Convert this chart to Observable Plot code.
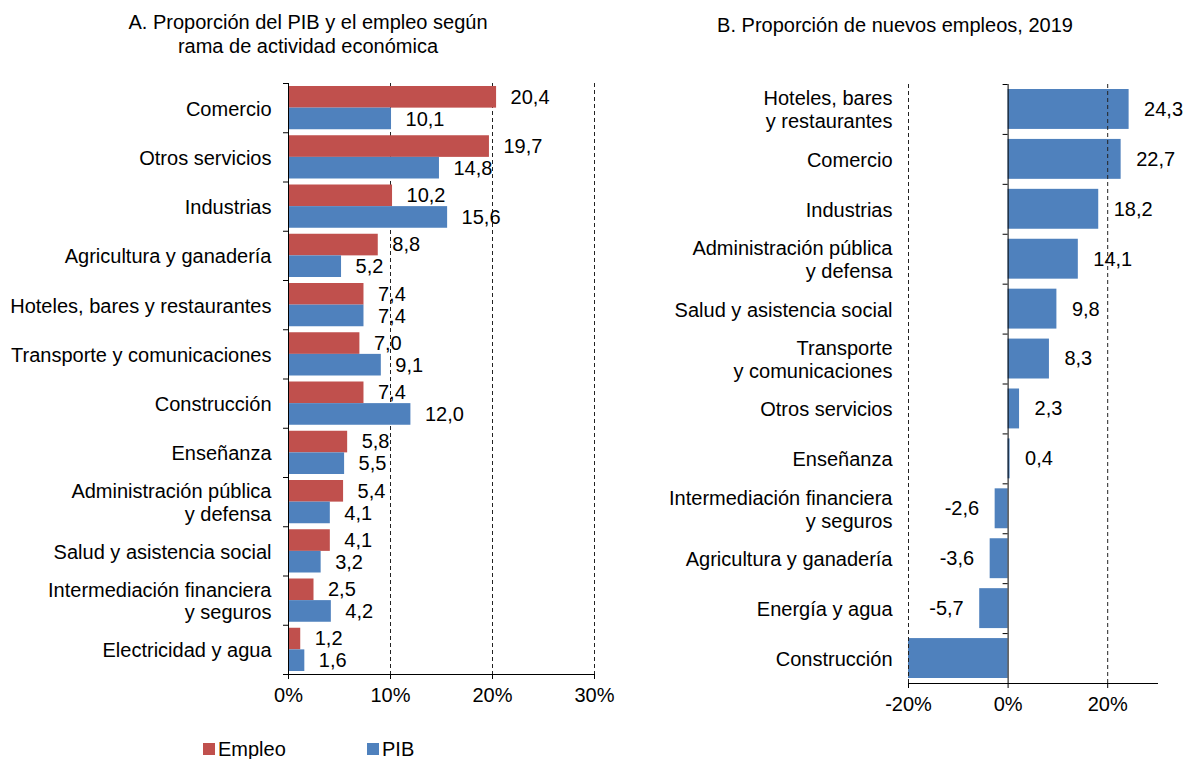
<!DOCTYPE html>
<html><head><meta charset="utf-8">
<script src="https://cdn.jsdelivr.net/npm/d3@7"></script>
<script src="https://cdn.jsdelivr.net/npm/@observablehq/plot@0.6"></script>
<style>
body{margin:0;background:#fff;font-family:"Liberation Sans",Arial,sans-serif;color:#000}
#root{position:relative;width:1186px;height:759px;overflow:hidden;background:#fff}
.title{position:absolute;font-size:20px;text-align:center;line-height:24px;width:420px}
.pl{position:absolute}
.pl svg{display:block}
.leg{position:absolute;top:737px;font-size:20px;line-height:24px;display:flex;align-items:center}
.leg span.sw{display:inline-block;width:12px;height:12px;margin-right:3px}
</style></head>
<body><div id="root">
<div class="title" style="left:98px;top:10px">A. Proporción del PIB y el empleo según<br>rama de actividad económica</div>
<div class="title" style="left:685px;top:13px">B. Proporción de nuevos empleos, 2019</div>
<div id="pb" class="pl" style="left:600px;top:60px"></div>
<div id="pa" class="pl" style="left:0;top:60px"></div>
<div class="leg" style="left:203px"><span class="sw" style="background:#C0504D"></span>Empleo</div>
<div class="leg" style="left:367px"><span class="sw" style="background:#4F81BD"></span>PIB</div>
</div>
<script>
// ---- Panel A data ----
const catsA = ["Comercio","Otros servicios","Industrias","Agricultura y ganadería","Hoteles, bares y restaurantes","Transporte y comunicaciones","Construcción","Enseñanza","Administración pública\ny defensa","Salud y asistencia social","Intermediación financiera\ny seguros","Electricidad y agua"];
const empleo = [20.4,19.7,10.2,8.8,7.4,7.0,7.4,5.8,5.4,4.1,2.5,1.2];
const pib = [10.1,14.8,15.6,5.2,7.4,9.1,12.0,5.5,4.1,3.2,4.2,1.6];
const ticksA = [0,10,20,30];
// ---- Panel B data ----
const catsB = ["Hoteles, bares\ny restaurantes","Comercio","Industrias","Administración pública\ny defensa","Salud y asistencia social","Transporte\ny comunicaciones","Otros servicios","Enseñanza","Intermediación financiera\ny seguros","Agricultura y ganadería","Energía y agua","Construcción"];
const nuevos = [24.3,22.7,18.2,14.1,9.8,8.3,2.3,0.4,-2.6,-3.6,-5.7,-20]; // last bar truncated at axis minimum
const ticksB = [-20,0,20];
const domainB = [-20,30];

const fmt = v => v.toFixed(1).replace(".", ",");
const RED = "#C0504D", BLUE = "#4F81BD";
const font = {fontFamily:'"Liberation Sans", Arial, sans-serif', fontSize:"20px", background:"transparent", overflow:"visible"};

function centerMultiline(svg){
  svg.querySelectorAll('g[aria-label="category-labels"] text').forEach(t => {
    const ts = t.querySelectorAll("tspan");
    if (ts.length > 1) {
      const w = t.getBBox().width;
      t.setAttribute("text-anchor","middle");
      ts.forEach(s => s.setAttribute("x", (parseFloat(s.getAttribute("x")||0) - w/2)));
    }
  });
}

// ---- Panel A ----
const HA = 654, mtA = 23, mbA = 40;
const stepA = (HA - mtA - mbA) / catsA.length;
const dataE = catsA.map((c,i)=>({c, v: empleo[i]}));
const dataP = catsA.map((c,i)=>({c, v: pib[i]}));
const plotA = Plot.plot({
  width: 640, height: HA, marginTop: mtA, marginBottom: mbA, marginLeft: 288, marginRight: 46,
  style: font,
  x: {domain:[0,30], ticks: ticksA, tickFormat: d => d + "%", tickSize: 5, tickPadding: 8, line: true, label: null},
  y: {domain: catsA, padding: 0, round: false, axis: null},
  marks: [
    Plot.ruleX(ticksA.filter(d=>d>0), {stroke:"#222", strokeDasharray:"4,3"}),
    Plot.barX(dataE, {y:"c", x:"v", fill: RED, insetTop: 3, insetBottom: stepA/2}),
    Plot.barX(dataP, {y:"c", x:"v", fill: BLUE, insetTop: stepA/2, insetBottom: 3}),
    Plot.text(dataE, {y:"c", x:"v", text: d=>fmt(d.v), textAnchor:"start", dx: 14, dy: -11}),
    Plot.text(dataP, {y:"c", x:"v", text: d=>fmt(d.v), textAnchor:"start", dx: 14, dy: 11}),
    Plot.ruleX([0], {stroke:"#000"}),
    Plot.ruleY(catsA, {y: d=>d, x1: 0, x2: 0, insetLeft: -5, dy: -stepA/2, stroke:"#000"}),
    Plot.ruleY(catsA.slice(-1), {y: d=>d, x1: 0, x2: 0, insetLeft: -5, dy: stepA/2, stroke:"#000"}),
    Plot.text(catsA, {y: d=>d, text: d=>d, frameAnchor:"left", textAnchor:"end", dx: -17, lineHeight: 1.15, ariaLabel:"category-labels"})
  ]
});
document.getElementById("pa").appendChild(plotA);
centerMultiline(plotA);

// ---- Panel B ----
const HB = 663, mtB = 24, mbB = 40;
const stepB = (HB - mtB - mbB) / catsB.length;
const dataB = catsB.map((c,i)=>({c, v: nuevos[i]}));
const plotB = Plot.plot({
  width: 586, height: HB, marginTop: mtB, marginBottom: mbB, marginLeft: 308, marginRight: 29,
  style: font,
  x: {domain: domainB, ticks: ticksB, tickFormat: d => d + "%", tickSize: 5, tickPadding: 8, line: true, label: null},
  y: {domain: catsB, padding: 0, round: false, axis: null},
  marks: [
    Plot.barX(dataB, {y:"c", x:"v", fill: BLUE, insetTop: 5, insetBottom: 5}),
    Plot.ruleX(ticksB.filter(d=>d!==0), {stroke:"#222", strokeDasharray:"4,3"}),
    Plot.text(dataB.filter(d=>d.v>=0), {y:"c", x:"v", text: d=>fmt(d.v), textAnchor:"start", dx: 15}),
    Plot.text(dataB.filter(d=>d.v<0 && d.v>domainB[0]), {y:"c", x:"v", text: d=>fmt(d.v), textAnchor:"end", dx: -16}),
    Plot.ruleX([0], {stroke:"#000"}),
    Plot.ruleY(catsB, {y: d=>d, x1: 0, x2: 0, insetLeft: -5, dy: -stepB/2, stroke:"#000"}),
    Plot.ruleY(catsB.slice(-1), {y: d=>d, x1: 0, x2: 0, insetLeft: -5, dy: stepB/2, stroke:"#000"}),
    Plot.text(catsB, {y: d=>d, text: d=>d, frameAnchor:"left", textAnchor:"end", dx: -16, lineHeight: 1.15, ariaLabel:"category-labels"})
  ]
});
document.getElementById("pb").appendChild(plotB);
centerMultiline(plotB);
</script>
</body></html>
